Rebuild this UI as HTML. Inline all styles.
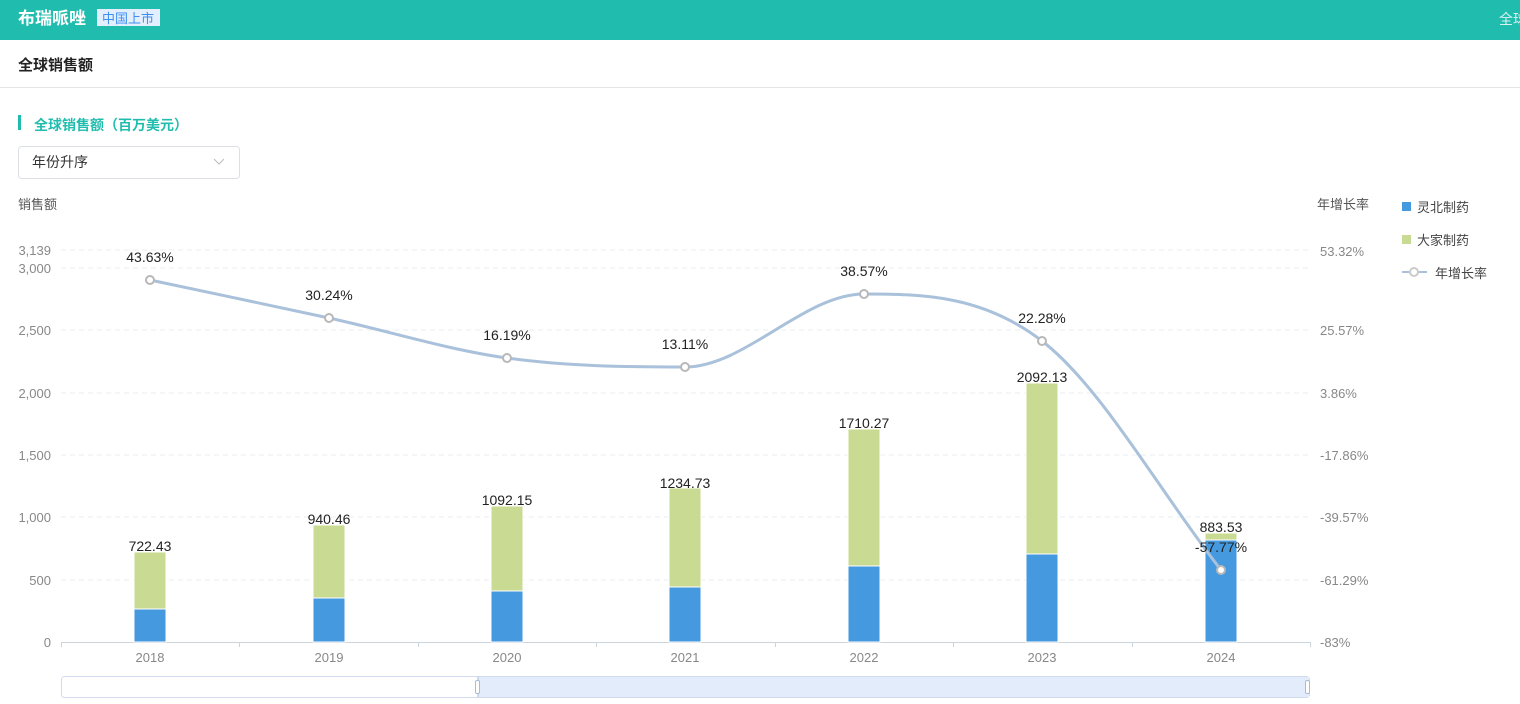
<!DOCTYPE html><html><head><meta charset="utf-8"><style>
body{margin:0;width:1520px;height:704px;overflow:hidden;background:#fff;font-family:"Liberation Sans","Noto Sans CJK SC",sans-serif;}
</style></head><body>
<svg width="1520" height="704" xmlns="http://www.w3.org/2000/svg" style="position:absolute;left:0;top:0;font-family:'Liberation Sans','Noto Sans CJK SC',sans-serif">
<rect x="0" y="0" width="1520" height="40" fill="#20bdae"/>
<text x="18" y="24" font-size="17" font-weight="bold" fill="#fff">布瑞哌唑</text>
<rect x="97" y="9" width="63" height="17" fill="#e3efff"/>
<text x="102" y="23" font-size="13" fill="#3d8ff0">中国上市</text>
<text x="1499" y="24" font-size="14" fill="#d6f3f0">全球</text>
<text x="18" y="70" font-size="15" font-weight="bold" fill="#222">全球销售额</text>
<line x1="0" y1="87.5" x2="1520" y2="87.5" stroke="#e5e5e5"/>
<rect x="18" y="115" width="3" height="15" fill="#20bdae"/>
<text x="34" y="130" font-size="14" font-weight="bold" fill="#20bdae">全球销售额（百万美元）</text>
<rect x="18.5" y="146.5" width="221" height="32" rx="3" fill="#fff" stroke="#dcdfe6"/>
<text x="32" y="167" font-size="14" fill="#333">年份升序</text>
<polyline points="214,159 219,164 224,159" fill="none" stroke="#bbb" stroke-width="1"/>
<text x="18" y="209" font-size="13" fill="#555">销售额</text>
<text x="1317" y="209" font-size="13" fill="#555">年增长率</text>
<g stroke="#e8eef0" stroke-dasharray="5,4">
<line x1="61" y1="250" x2="1310" y2="250"/><line x1="61" y1="268" x2="1310" y2="268"/>
<line x1="61" y1="330" x2="1310" y2="330"/><line x1="61" y1="393" x2="1310" y2="393"/>
<line x1="61" y1="455" x2="1310" y2="455"/><line x1="61" y1="517" x2="1310" y2="517"/>
<line x1="61" y1="580" x2="1310" y2="580"/>
</g>
<g font-size="13" fill="#888" text-anchor="end">
<text x="51" y="255">3,139</text><text x="51" y="273">3,000</text><text x="51" y="335">2,500</text>
<text x="51" y="398">2,000</text><text x="51" y="460">1,500</text><text x="51" y="522">1,000</text>
<text x="51" y="585">500</text><text x="51" y="647">0</text>
</g>
<g font-size="13" fill="#888">
<text x="1320" y="256">53.32%</text><text x="1320" y="335">25.57%</text><text x="1320" y="398">3.86%</text>
<text x="1320" y="460">-17.86%</text><text x="1320" y="522">-39.57%</text><text x="1320" y="585">-61.29%</text>
<text x="1320" y="647">-83%</text>
</g>
<line x1="61" y1="642.5" x2="1310" y2="642.5" stroke="#ccd4dc"/>
<g stroke="#ccd4dc">
<line x1="61.5" y1="642" x2="61.5" y2="647"/><line x1="239.5" y1="642" x2="239.5" y2="647"/>
<line x1="418.5" y1="642" x2="418.5" y2="647"/><line x1="596.5" y1="642" x2="596.5" y2="647"/>
<line x1="775.5" y1="642" x2="775.5" y2="647"/><line x1="953.5" y1="642" x2="953.5" y2="647"/>
<line x1="1132.5" y1="642" x2="1132.5" y2="647"/><line x1="1310.5" y1="642" x2="1310.5" y2="647"/>
</g>
<g font-size="13" fill="#888" text-anchor="middle">
<text x="150" y="662">2018</text><text x="329" y="662">2019</text><text x="507" y="662">2020</text>
<text x="685" y="662">2021</text><text x="864" y="662">2022</text><text x="1042" y="662">2023</text><text x="1221" y="662">2024</text>
</g>
<g stroke="#fff" stroke-width="1">
<rect x="134" y="609" width="32" height="33" fill="#4599df"/><rect x="134" y="552" width="32" height="57" fill="#c9da92"/>
<rect x="313" y="598" width="32" height="44" fill="#4599df"/><rect x="313" y="525" width="32" height="73" fill="#c9da92"/>
<rect x="491" y="591" width="32" height="51" fill="#4599df"/><rect x="491" y="506" width="32" height="85" fill="#c9da92"/>
<rect x="669" y="587" width="32" height="55" fill="#4599df"/><rect x="669" y="488" width="32" height="99" fill="#c9da92"/>
<rect x="848" y="566" width="32" height="76" fill="#4599df"/><rect x="848" y="429" width="32" height="137" fill="#c9da92"/>
<rect x="1026" y="554" width="32" height="88" fill="#4599df"/><rect x="1026" y="383" width="32" height="171" fill="#c9da92"/>
<rect x="1205" y="540" width="32" height="102" fill="#4599df"/><rect x="1205" y="533" width="32" height="7" fill="#c9da92"/>
</g>
<g font-size="14" fill="#222" text-anchor="middle">
<text x="150" y="551">722.43</text><text x="329" y="524">940.46</text><text x="507" y="505">1092.15</text>
<text x="685" y="488">1234.73</text><text x="864" y="428">1710.27</text><text x="1042" y="382">2092.13</text><text x="1221" y="532">883.53</text>
</g>
<path d="M150,280 C209.7,292.6 269.3,305 329,318 C388.3,330.9 447.7,349.8 507,358 C566.3,366.2 625.7,367 685,367 C744.7,367 804.3,294 864,294 C923.3,294 982.7,295.3 1042,341 C1101.7,387 1161.3,494 1221,570" fill="none" stroke="#a9c1da" stroke-width="3"/>
<g fill="#fff" stroke="#b8b8b8" stroke-width="2">
<circle cx="150" cy="280" r="4"/><circle cx="329" cy="318" r="4"/><circle cx="507" cy="358" r="4"/>
<circle cx="685" cy="367" r="4"/><circle cx="864" cy="294" r="4"/><circle cx="1042" cy="341" r="4"/><circle cx="1221" cy="570" r="4"/>
</g>
<g font-size="14" fill="#222" text-anchor="middle">
<text x="150" y="262">43.63%</text><text x="329" y="300">30.24%</text><text x="507" y="340">16.19%</text>
<text x="685" y="349">13.11%</text><text x="864" y="276">38.57%</text><text x="1042" y="323">22.28%</text><text x="1221" y="552">-57.77%</text>
</g>
<rect x="1402" y="202" width="9" height="9" fill="#4599df"/><text x="1417" y="212" font-size="13" fill="#444">灵北制药</text>
<rect x="1402" y="235" width="9" height="9" fill="#c9da92"/><text x="1417" y="245" font-size="13" fill="#444">大家制药</text>
<line x1="1402" y1="272" x2="1427" y2="272" stroke="#a9c1da" stroke-width="2"/>
<circle cx="1414" cy="272" r="4" fill="#fff" stroke="#ccc" stroke-width="2"/>
<text x="1435" y="278" font-size="13" fill="#444">年增长率</text>
<rect x="61.5" y="676.5" width="1248" height="21" rx="3" fill="#fff" stroke="#d2dbee"/>
<rect x="478" y="677" width="831" height="20" fill="#e3ecfb"/>
<line x1="478" y1="677" x2="478" y2="697" stroke="#a9bbd8"/>
<rect x="475.5" y="680.5" width="4" height="13" rx="1.5" fill="#fff" stroke="#a9bbd8"/>
<rect x="1305.5" y="680.5" width="4" height="13" rx="1.5" fill="#fff" stroke="#a9bbd8"/>
</svg>
</body></html>
